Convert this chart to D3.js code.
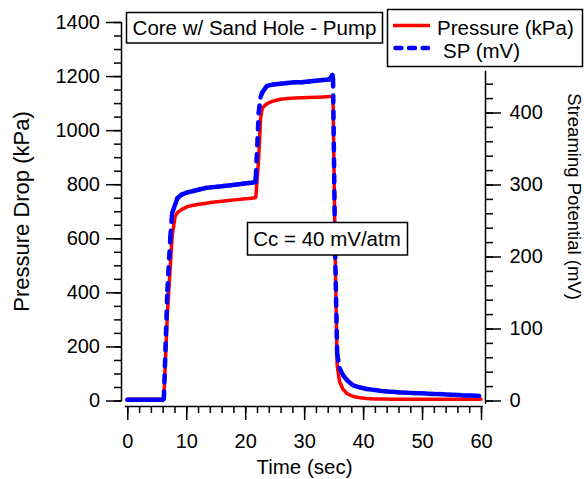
<!DOCTYPE html>
<html>
<head>
<meta charset="utf-8">
<script src="https://cdn.jsdelivr.net/npm/d3@7"></script>
<style>
  body { margin: 0; background: #fff; }
  svg { display: block; }
</style>
</head>
<body>
<svg id="chart" width="584" height="479"></svg>
<script>
// values
var time = [0, 1.5, 3, 4.5, 6, 6.2, 6.8, 7.3, 7.6, 8.1, 8.5, 9.2, 10.2, 11.2, 12.2, 13.2, 14.1, 15.3, 16.4, 17.5,
    18.6, 19.6, 20.6, 21.7, 21.8, 22.3, 22.6, 22.9, 23.7, 24.8, 26, 27.2, 28.4, 29.6, 30.8, 32, 33.2, 34.3, 34.8, 34.9,
    35.25, 35.6, 36.0, 36.6, 37.3, 38.3, 39.5, 40.6, 42, 43.5, 45, 46.5, 48, 49.5, 51, 52.5, 54, 55.5, 57, 58.5, 60];
var pressure = [5, 5, 5, 5, 5, 8, 320, 500, 606, 680, 695, 706, 717, 722, 726, 729, 732, 735, 738, 741,
    743, 745, 747, 750, 752, 900, 1040, 1082, 1098, 1108, 1114, 1117, 1119, 1120, 1121, 1122, 1123, 1124, 1124, 1120,
    560, 130, 70, 41, 25, 15, 10, 7, 6, 6, 5, 5, 5, 5, 5, 5, 5, 5, 5, 5, 5];
var sp = [1, 1, 1, 1, 1, 3, 153, 226, 260, 272, 281, 286, 289, 291, 293, 295, 296, 297, 298, 299,
    300, 301, 302, 303, 310, 400, 421, 428, 437, 439, 440, 441, 442, 442, 443, 444, 445, 446, 452, 446,
    208, 65, 45, 35, 28, 21, 18, 16, 14.5, 13, 12, 11, 10.5, 10, 9.5, 9, 8.5, 8, 7, 7, 6];

var xTicks = [0, 10, 20, 30, 40, 50, 60];
var pTicks = [0, 200, 400, 600, 800, 1000, 1200, 1400];
var spTicks = [0, 100, 200, 300, 400];
var seriesNames = ["Pressure (kPa)", "SP (mV)"];
var titleText = "Core w/ Sand Hole - Pump";
var noteText = "Cc = 40 mV/atm";

var FONT = '"Liberation Sans", Arial, sans-serif';
var RED = "#ff0000", BLUE = "#0000ff";
var fmt = d3.format("d");

var svg = d3.select("#chart").attr("font-family", FONT);

var x = d3.scaleLinear().domain([0, 60]).range([127.3, 481]);
var yP = d3.scaleLinear().domain([0, 1400]).range([400.5, 22]);
var yS = d3.scaleLinear().domain([0, 458]).range([400.5, 400.5 - 458 * 0.72]);

function styleAxis(g) {
    g.select(".domain").remove();
    g.attr("font-family", FONT).attr("font-size", 20);
    g.selectAll("line").attr("stroke", "#000").attr("stroke-width", 1.5);
    g.selectAll("text").attr("fill", "#000");
}

// left axis
svg.append("g").attr("transform", "translate(121,0)")
    .call(d3.axisLeft(yP).tickValues(d3.range(0, 1401, 50)).tickSize(7).tickFormat(""))
    .call(styleAxis);
svg.append("g").attr("transform", "translate(121,0)")
    .call(d3.axisLeft(yP).tickValues(pTicks).tickSize(15).tickPadding(6).tickFormat(fmt))
    .call(styleAxis);
svg.append("line").attr("x1", 121.5).attr("x2", 121.5).attr("y1", yP(1400)).attr("y2", yP(0) + 1)
    .attr("stroke", "#000").attr("stroke-width", 1.5);

// bottom axis
svg.append("g").attr("transform", "translate(0,406)")
    .call(d3.axisBottom(x).tickValues(d3.range(0, 61, 2)).tickSize(7).tickFormat(""))
    .call(styleAxis);
svg.append("g").attr("transform", "translate(0,406)")
    .call(d3.axisBottom(x).tickValues(xTicks).tickSize(14).tickPadding(14).tickFormat(fmt))
    .call(styleAxis);
svg.append("line").attr("x1", 125).attr("x2", 483).attr("y1", 406.5).attr("y2", 406.5)
    .attr("stroke", "#000").attr("stroke-width", 1.5);

// right axis
svg.append("g").attr("transform", "translate(485,0)")
    .call(d3.axisRight(yS).tickValues(d3.range(0, 441, 20)).tickSize(8).tickFormat(""))
    .call(styleAxis);
svg.append("g").attr("transform", "translate(485,0)")
    .call(d3.axisRight(yS).tickValues(spTicks).tickSize(16).tickPadding(8.5).tickFormat(fmt))
    .call(styleAxis);
svg.append("line").attr("x1", 485.5).attr("x2", 485.5).attr("y1", yS(458)).attr("y2", 404)
    .attr("stroke", "#000").attr("stroke-width", 1.5);

// axis titles
svg.append("text").attr("transform", "translate(28.5,211.5) rotate(-90)")
    .attr("text-anchor", "middle").attr("font-size", 22).text("Pressure Drop (kPa)");
svg.append("text").attr("transform", "translate(567.5,196.5) rotate(90)")
    .attr("text-anchor", "middle").attr("font-size", 18.5).text("Streaming Potential (mV)");
svg.append("text").attr("x", 304.5).attr("y", 474)
    .attr("text-anchor", "middle").attr("font-size", 20.5).text("Time (sec)");

// pressure trace
var idx = d3.range(time.length);
svg.append("path")
    .attr("d", d3.line().x(function(i) { return x(time[i]); }).y(function(i) { return yP(pressure[i]); })(idx))
    .attr("fill", "none").attr("stroke", RED).attr("stroke-width", 3.5)
    .attr("stroke-linejoin", "round").attr("stroke-linecap", "round");

// SP trace: dash pattern restarts at every sample, like the original plot
var spPts = idx.map(function(i) { return [x(time[i]), yS(sp[i])]; });
svg.append("g").selectAll("line").data(d3.pairs(spPts)).enter().append("line")
    .attr("x1", function(d) { return d[0][0]; }).attr("y1", function(d) { return d[0][1]; })
    .attr("x2", function(d) { return d[1][0]; }).attr("y2", function(d) { return d[1][1]; })
    .attr("stroke", BLUE).attr("stroke-width", 4.5)
    .attr("stroke-linecap", "round").attr("stroke-dasharray", "7,9");

// title box
svg.append("rect").attr("x", 126.5).attr("y", 12.5).attr("width", 256).attr("height", 30.5)
    .attr("fill", "#fff").attr("stroke", "#000").attr("stroke-width", 1.5);
svg.append("text").attr("x", 254.5).attr("y", 35.2).attr("text-anchor", "middle")
    .attr("font-size", 20.5).text(titleText);

// legend
svg.append("rect").attr("x", 387.5).attr("y", 9.5).attr("width", 195).attr("height", 57)
    .attr("fill", "#fff").attr("stroke", "#000").attr("stroke-width", 1.5);
svg.append("line").attr("x1", 393).attr("x2", 430).attr("y1", 25.5).attr("y2", 25.5)
    .attr("stroke", RED).attr("stroke-width", 3.5);
svg.append("line").attr("x1", 395.5).attr("x2", 428).attr("y1", 48).attr("y2", 48)
    .attr("stroke", BLUE).attr("stroke-width", 4.5)
    .attr("stroke-linecap", "round").attr("stroke-dasharray", "6,7.5");
svg.append("text").attr("x", 437).attr("y", 34.5).attr("font-size", 20.5).text(seriesNames[0]);
svg.append("text").attr("x", 443).attr("y", 57.5).attr("font-size", 20.5).text(seriesNames[1]);

// Cc note
svg.append("rect").attr("x", 247.5).attr("y", 222.5).attr("width", 160).attr("height", 32.5)
    .attr("fill", "#fff").attr("stroke", "#000").attr("stroke-width", 1.5);
svg.append("text").attr("x", 327).attr("y", 246.3).attr("text-anchor", "middle")
    .attr("font-size", 20.5).text(noteText);
</script>
</body>
</html>
